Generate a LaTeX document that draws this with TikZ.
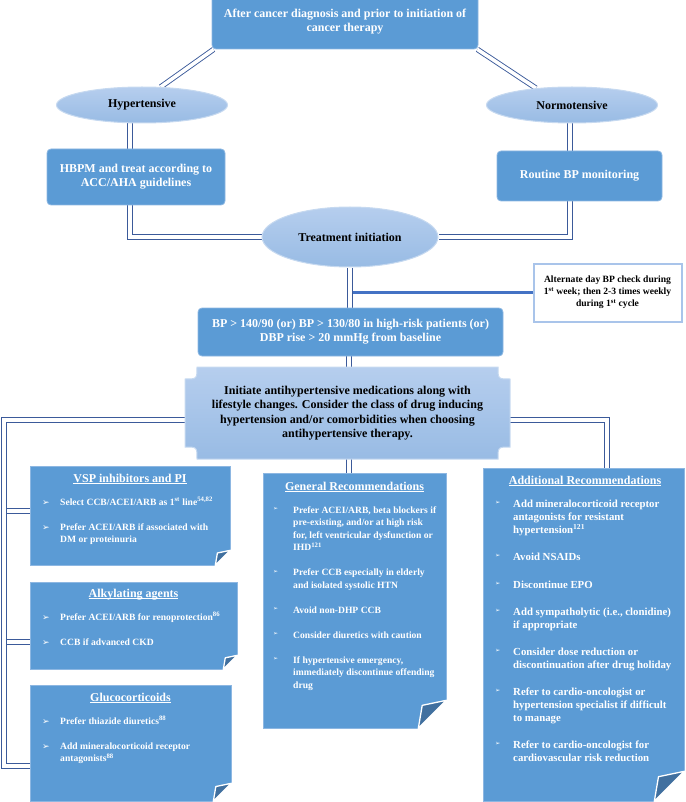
\documentclass[tikz,border=0pt]{standalone}
\usepackage{fontspec}
\setmainfont{Liberation Serif}
\newfontfamily\dejavu{DejaVu Sans}
\usetikzlibrary{calc,shapes.geometric,backgrounds}

\definecolor{boxblue}{HTML}{5B9BD5}
\definecolor{boxedge}{HTML}{8DB7E2}
\definecolor{lineblue}{HTML}{3B5A9A}
\definecolor{ellT}{HTML}{B6CEEE}
\definecolor{ellB}{HTML}{98BBE4}
\definecolor{ellrim}{HTML}{C6D9F0}
\definecolor{foldblue}{HTML}{41709F}
\definecolor{branchblue}{HTML}{4472C4}
\definecolor{altedge}{HTML}{A9C4EA}

\newcommand\litem[1]{\par\hangindent=18pt\hangafter=1\noindent\makebox[18pt][l]{\raisebox{0pt}{\dejavu\fontsize{9}{9}\selectfont ➢}}#1}
\newcommand\gitem[1]{\par\hangindent=20pt\hangafter=1\noindent\makebox[20pt][l]{\raisebox{2.6pt}{\dejavu\fontsize{6}{6}\selectfont ➢}}#1}
\newcommand\aitem[1]{\par\hangindent=18pt\hangafter=1\noindent\makebox[18pt][l]{\raisebox{3pt}{\dejavu\fontsize{6.3}{6.3}\selectfont ➢}}#1}
\newcommand\ulttl[1]{\underline{\smash{#1}}}
\newcommand\dogear[2]{%
  \fill[white] ([xshift=1pt,yshift=#2pt+1pt]#1.south east) -- ([xshift=1pt,yshift=-1pt]#1.south east) -- ([xshift=-#2pt-1pt,yshift=-1pt]#1.south east) -- cycle;
  \filldraw[fill=foldblue, draw=white, line width=1.3pt, line join=round]
    ([yshift=#2pt]#1.south east) -- ([xshift=-#2pt]#1.south east) -- ([xshift=-0.86*#2pt, yshift=0.82*#2pt]#1.south east) -- cycle;}

\begin{document}
\begin{tikzpicture}[x=1pt,y=-1pt,
  bbox/.style={draw=boxedge, line width=0.8pt, fill=boxblue, rounded corners=4pt, text=white,
    font=\bfseries\fontsize{12}{14}\selectfont, align=center, inner sep=0pt},
  ell/.style={ellipse, draw=ellrim, line width=1pt, top color=ellT, bottom color=ellB,
    font=\bfseries\fontsize{12}{14}\selectfont, inner sep=0pt},
  fbox/.style={fill=boxblue, draw=boxedge, line width=0.6pt, inner sep=0pt},
  ttl/.style={text=white, font=\bfseries\fontsize{12}{14}\selectfont, inner sep=0pt, anchor=base},
  btxt/.style={text=white, font=\bfseries, inner sep=0pt, anchor=base west},
  dbl/.style={draw=lineblue, line width=0.9pt, double=white, double distance=3.6pt},
  branch/.style={draw=branchblue, line width=2.6pt},
]
\useasboundingbox (0,0) rectangle (685,802);

% ---------- top part ----------
\node[bbox, minimum width=266pt, minimum height=54pt] (top) at (345,22)
  {After cancer diagnosis and prior to initiation of\\cancer therapy};
\node[ell, minimum width=171pt, minimum height=36pt] (hyp) at (142,105) {Hypertensive};
\node[ell, minimum width=171pt, minimum height=36pt] (norm) at (572,105) {Normotensive};
\node[bbox, minimum width=178pt, minimum height=56pt] (hbpm) at (136,177)
  {HBPM and treat according to\\ACC/AHA guidelines};
\node[bbox, minimum width=165pt, minimum height=50pt] (routine) at (579.5,176) {Routine BP monitoring};
\node[ell, minimum width=176pt, minimum height=60pt] (treat) at (350,237) {Treatment initiation};
\node[draw=altedge, line width=2pt, fill=white, minimum width=148pt, minimum height=58pt,
  align=center, font=\bfseries\fontsize{9.6}{12}\selectfont, inner sep=0pt] (alt) at (607.5,292.5)
  {Alternate day BP check during\\1\textsuperscript{st} week; then 2-3 times weekly\\during 1\textsuperscript{st} cycle};
\node[bbox, minimum width=305pt, minimum height=48pt] (bp) at (350.5,332)
  {BP > 140/90 (or) BP > 130/80 in high-risk patients (or)\\DBP rise > 20 mmHg from baseline};

% ---------- initiate box ----------
\path[draw=ellrim, line width=1pt, top color=ellT, bottom color=ellB]
  (197,367) -- (498,367) .. controls (498,379) .. (510,379) -- (510,447)
  .. controls (498,447) .. (498,459) -- (197,459) .. controls (197,447) .. (185,447)
  -- (185,379) .. controls (197,379) .. (197,367) -- cycle;
\node[minimum width=325pt, minimum height=92pt, inner sep=0pt, align=center,
  font=\bfseries\fontsize{12}{14.5}\selectfont] (init) at (347.5,413)
  {Initiate antihypertensive medications along with\\lifestyle changes. Consider the class of drug inducing\\hypertension and/or comorbidities when choosing\\antihypertensive therapy.};

% ---------- recommendation boxes ----------
\node[fbox, minimum width=200pt, minimum height=99pt] (vsp) at (130,515.5) {};
\node[fbox, minimum width=207pt, minimum height=87pt] (alk) at (133.5,625.5) {};
\node[fbox, minimum width=201pt, minimum height=116pt] (glu) at (130.5,743) {};
\node[fbox, minimum width=183pt, minimum height=255pt] (gen) at (354.5,600.5) {};
\node[fbox, minimum width=201pt, minimum height=333pt] (add) at (583.5,634.5) {};
\dogear{vsp}{15}
\dogear{alk}{14}
\dogear{glu}{18}
\dogear{gen}{28}
\dogear{add}{30}

\node[ttl] (vspT) at (130,482) {\ulttl{VSP inhibitors and PI}};
\node[ttl] (alkT) at (133.5,597) {\ulttl{Alkylating agents}};
\node[ttl] (gluT) at (130.5,701) {\ulttl{Glucocorticoids}};
\node[ttl] (genT) at (354.5,490) {\ulttl{General Recommendations}};
\node[ttl] (addT) at (585,484) {\ulttl{Additional Recommendations}};

\node[btxt] (vspL) at (42,505.2) {\parbox[t]{230pt}{\fontsize{9.6}{12.5}\selectfont
  \litem{Select CCB/ACEI/ARB as 1\textsuperscript{st} line\textsuperscript{54,82}}\par\vspace{12.5pt}
  \litem{Prefer ACEI/ARB if associated with\\DM or proteinuria}}};
\node[btxt] (alkL) at (42,620.2) {\parbox[t]{230pt}{\fontsize{9.6}{12.5}\selectfont
  \litem{Prefer ACEI/ARB for renoprotection\textsuperscript{86}}\par\vspace{12.5pt}
  \litem{CCB if advanced CKD}}};
\node[btxt] (gluL) at (42,724.2) {\parbox[t]{230pt}{\fontsize{9.6}{12.5}\selectfont
  \litem{Prefer thiazide diuretics\textsuperscript{88}}\par\vspace{12.5pt}
  \litem{Add mineralocorticoid receptor\\antagonists\textsuperscript{88}}}};
\node[btxt] (genL) at (273,513.2) {\parbox[t]{220pt}{\fontsize{9.6}{12.5}\selectfont
  \gitem{Prefer ACEI/ARB, beta blockers if\\pre-existing, and/or at high risk\\for, left ventricular dysfunction or\\IHD\textsuperscript{121}}\par\vspace{12.5pt}
  \gitem{Prefer CCB especially in elderly\\and isolated systolic HTN}\par\vspace{12.5pt}
  \gitem{Avoid non-DHP CCB}\par\vspace{12.5pt}
  \gitem{Consider diuretics with caution}\par\vspace{12.5pt}
  \gitem{If hypertensive emergency,\\immediately discontinue offending\\drug}}};
\node[btxt] (addL) at (495,507.6) {\parbox[t]{240pt}{\fontsize{10.8}{13.1}\selectfont
  \aitem{Add mineralocorticoid receptor\\antagonists for resistant\\hypertension\textsuperscript{121}}\par\vspace{14pt}
  \aitem{Avoid NSAIDs}\par\vspace{14pt}
  \aitem{Discontinue EPO}\par\vspace{14pt}
  \aitem{Add sympatholytic (i.e., clonidine)\\if appropriate}\par\vspace{14pt}
  \aitem{Consider dose reduction or\\discontinuation after drug holiday}\par\vspace{14pt}
  \aitem{Refer to cardio-oncologist or\\hypertension specialist if difficult\\to manage}\par\vspace{14pt}
  \aitem{Refer to cardio-oncologist for\\cardiovascular risk reduction}}};

% ---------- connectors ----------
\coordinate (lc) at (4,766);
\begin{scope}[on background layer]
\draw[dbl] ([xshift=2pt]top.south west) -- (hyp.44);
\draw[dbl] ([xshift=-1pt]top.south east) -- (norm.155);
\draw[dbl] ([xshift=-12pt]hyp.south) -- ([xshift=-6pt]hbpm.north);
\draw[dbl] ([xshift=-2pt]norm.south) -- ([xshift=-9.5pt]routine.north);
\draw[dbl] ([xshift=-6pt]hbpm.south) |- (treat.west);
\draw[dbl] ([xshift=-9.5pt]routine.south) |- (treat.east);
\draw[dbl] (treat.south) -- (treat.south |- bp.north);
\draw[branch] ($(treat.south |- alt.west)+(2.5,0)$) -- (alt.west);
\draw[dbl] ([xshift=-1.5pt]bp.south) -- ([xshift=-1.5pt]bp.south |- init.north);
\draw[dbl] ([yshift=-7pt]init.west) -| (lc) -- ([yshift=-23pt]glu.west);
\draw[dbl] ([yshift=4.5pt]vsp.west) -- ++(-23.2,0);
\draw[dbl] ([yshift=-16.5pt]alk.west) -- ++(-23.2,0);
\draw[dbl] ([yshift=-7pt]init.east) -| ([xshift=23.5pt]add.north);
\draw[dbl] ([xshift=1.5pt]init.south) -- ([xshift=1.5pt]init.south |- gen.north);
\end{scope}
\end{tikzpicture}
\end{document}
